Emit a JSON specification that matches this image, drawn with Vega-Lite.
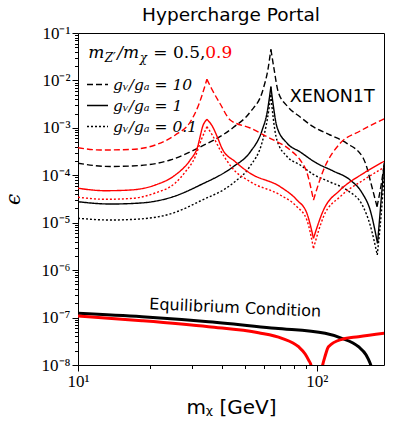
{
  "$schema": "https://vega.github.io/schema/vega-lite/v6.json",
  "width": 306,
  "height": 332,
  "autosize": {"type": "none"},
  "padding": {"left": 78, "top": 33, "right": 15, "bottom": 65},
  "background": "white",
  "config": {"view": {"stroke": "black", "strokeWidth": 1}},
  "title": {"text": "Hypercharge Portal", "font": "DejaVu Sans", "fontSize": 18.5, "fontWeight": "normal", "color": "black", "baseline": "alphabetic", "offset": -15, "anchor": "middle", "frame": "group"},
  "datasets": {
    "xen": [
      {"r": "0.5", "g": "10", "s": "a", "x": 10, "y": 1.79e-4},
      {"r": "0.5", "g": "10", "s": "a", "x": 13.65, "y": 1.532e-4},
      {"r": "0.5", "g": "10", "s": "a", "x": 18.23, "y": 1.609e-4},
      {"r": "0.5", "g": "10", "s": "a", "x": 24.33, "y": 2.101e-4},
      {"r": "0.5", "g": "10", "s": "a", "x": 32.48, "y": 3.95e-4},
      {"r": "0.5", "g": "10", "s": "a", "x": 44.65, "y": 1.018e-3},
      {"r": "0.5", "g": "10", "s": "a", "x": 52.6, "y": 2.16e-3},
      {"r": "0.5", "g": "10", "s": "a", "x": 59.61, "y": 6.597e-3},
      {"r": "0.5", "g": "10", "s": "a", "x": 62.55, "y": 0.01828},
      {"r": "0.5", "g": "10", "s": "a", "x": 64.2, "y": 0.0453},
      {"r": "0.5", "g": "10", "s": "b", "x": 64.2, "y": 0.0453},
      {"r": "0.5", "g": "10", "s": "b", "x": 66.28, "y": 0.0166},
      {"r": "0.5", "g": "10", "s": "b", "x": 68.89, "y": 5.702e-3},
      {"r": "0.5", "g": "10", "s": "b", "x": 75.12, "y": 2.89e-3},
      {"r": "0.5", "g": "10", "s": "b", "x": 85.14, "y": 1.694e-3},
      {"r": "0.5", "g": "10", "s": "b", "x": 96.5, "y": 1.058e-3},
      {"r": "0.5", "g": "10", "s": "b", "x": 113.6, "y": 7.07e-4},
      {"r": "0.5", "g": "10", "s": "b", "x": 133.5, "y": 4.72e-4},
      {"r": "0.5", "g": "10", "s": "b", "x": 156.2, "y": 2.315e-4},
      {"r": "0.5", "g": "10", "s": "b", "x": 162.0, "y": 1.45e-4},
      {"r": "0.5", "g": "10", "s": "b", "x": 167.1, "y": 7.96e-5},
      {"r": "0.5", "g": "10", "s": "b", "x": 178.6, "y": 2.18e-5},
      {"r": "0.5", "g": "10", "s": "c", "x": 178.6, "y": 2.18e-5},
      {"r": "0.5", "g": "10", "s": "c", "x": 185.8, "y": 6.24e-5},
      {"r": "0.5", "g": "10", "s": "c", "x": 191.2, "y": 1.648e-4},

      {"r": "0.5", "g": "1", "s": "a", "x": 10, "y": 2.77e-5},
      {"r": "0.5", "g": "1", "s": "a", "x": 13.65, "y": 2.48e-5},
      {"r": "0.5", "g": "1", "s": "a", "x": 18.23, "y": 2.6e-5},
      {"r": "0.5", "g": "1", "s": "a", "x": 25.05, "y": 3.54e-5},
      {"r": "0.5", "g": "1", "s": "a", "x": 32.48, "y": 6.24e-5},
      {"r": "0.5", "g": "1", "s": "a", "x": 44.65, "y": 1.517e-4},
      {"r": "0.5", "g": "1", "s": "a", "x": 52.6, "y": 3.1e-4},
      {"r": "0.5", "g": "1", "s": "a", "x": 59.04, "y": 9.02e-4},
      {"r": "0.5", "g": "1", "s": "a", "x": 61.96, "y": 2.16e-3},
      {"r": "0.5", "g": "1", "s": "a", "x": 64.2, "y": 7.376e-3},
      {"r": "0.5", "g": "1", "s": "b", "x": 64.2, "y": 7.376e-3},
      {"r": "0.5", "g": "1", "s": "b", "x": 65.65, "y": 3.034e-3},
      {"r": "0.5", "g": "1", "s": "b", "x": 68.03, "y": 1.058e-3},
      {"r": "0.5", "g": "1", "s": "b", "x": 75.12, "y": 4.72e-4},
      {"r": "0.5", "g": "1", "s": "b", "x": 85.14, "y": 3.1e-4},
      {"r": "0.5", "g": "1", "s": "b", "x": 100, "y": 1.79e-4},
      {"r": "0.5", "g": "1", "s": "b", "x": 117.0, "y": 1.231e-4},
      {"r": "0.5", "g": "1", "s": "b", "x": 137.8, "y": 7.96e-5},
      {"r": "0.5", "g": "1", "s": "b", "x": 154.7, "y": 4.23e-5},
      {"r": "0.5", "g": "1", "s": "b", "x": 167.1, "y": 1.85e-5},
      {"r": "0.5", "g": "1", "s": "b", "x": 179.5, "y": 3.68e-6},
      {"r": "0.5", "g": "1", "s": "c", "x": 179.5, "y": 3.68e-6},
      {"r": "0.5", "g": "1", "s": "c", "x": 185.8, "y": 3.01e-5},
      {"r": "0.5", "g": "1", "s": "c", "x": 191.2, "y": 1.8e-4},

      {"r": "0.5", "g": "0.1", "s": "a", "x": 10, "y": 1.239e-5},
      {"r": "0.5", "g": "0.1", "s": "a", "x": 13.65, "y": 1.14e-5},
      {"r": "0.5", "g": "0.1", "s": "a", "x": 18.23, "y": 1.2e-5},
      {"r": "0.5", "g": "0.1", "s": "a", "x": 25.05, "y": 1.6e-5},
      {"r": "0.5", "g": "0.1", "s": "a", "x": 32.48, "y": 2.87e-5},
      {"r": "0.5", "g": "0.1", "s": "a", "x": 44.65, "y": 6.88e-5},
      {"r": "0.5", "g": "0.1", "s": "a", "x": 52.6, "y": 1.57e-4},
      {"r": "0.5", "g": "0.1", "s": "a", "x": 59.04, "y": 5.03e-4},
      {"r": "0.5", "g": "0.1", "s": "a", "x": 61.96, "y": 1.465e-3},
      {"r": "0.5", "g": "0.1", "s": "a", "x": 64.2, "y": 4.929e-3},
      {"r": "0.5", "g": "0.1", "s": "b", "x": 64.2, "y": 4.929e-3},
      {"r": "0.5", "g": "0.1", "s": "b", "x": 65.65, "y": 1.614e-3},
      {"r": "0.5", "g": "0.1", "s": "b", "x": 68.03, "y": 5.55e-4},
      {"r": "0.5", "g": "0.1", "s": "b", "x": 75.12, "y": 2.465e-4},
      {"r": "0.5", "g": "0.1", "s": "b", "x": 85.14, "y": 1.648e-4},
      {"r": "0.5", "g": "0.1", "s": "b", "x": 96.5, "y": 1.05e-4},
      {"r": "0.5", "g": "0.1", "s": "b", "x": 113.6, "y": 7.22e-5},
      {"r": "0.5", "g": "0.1", "s": "b", "x": 133.5, "y": 4.89e-5},
      {"r": "0.5", "g": "0.1", "s": "b", "x": 156.2, "y": 2.18e-5},
      {"r": "0.5", "g": "0.1", "s": "b", "x": 167.1, "y": 8.95e-6},
      {"r": "0.5", "g": "0.1", "s": "b", "x": 179.0, "y": 2.09e-6},
      {"r": "0.5", "g": "0.1", "s": "c", "x": 179.0, "y": 2.09e-6},
      {"r": "0.5", "g": "0.1", "s": "c", "x": 185.8, "y": 1.45e-5},
      {"r": "0.5", "g": "0.1", "s": "c", "x": 191.2, "y": 9.66e-5},

      {"r": "0.9", "g": "10", "s": "a", "x": 10, "y": 3.82e-4},
      {"r": "0.9", "g": "10", "s": "a", "x": 12.4, "y": 3.41e-4},
      {"r": "0.9", "g": "10", "s": "a", "x": 16.55, "y": 3.5e-4},
      {"r": "0.9", "g": "10", "s": "a", "x": 21.06, "y": 4.35e-4},
      {"r": "0.9", "g": "10", "s": "a", "x": 25.54, "y": 7.07e-4},
      {"r": "0.9", "g": "10", "s": "a", "x": 29.5, "y": 1.329e-3},
      {"r": "0.9", "g": "10", "s": "a", "x": 31.86, "y": 2.89e-3},
      {"r": "0.9", "g": "10", "s": "a", "x": 34.65, "y": 0.01056},
      {"r": "0.9", "g": "10", "s": "b", "x": 34.65, "y": 0.01056},
      {"r": "0.9", "g": "10", "s": "b", "x": 36.12, "y": 6.926e-3},
      {"r": "0.9", "g": "10", "s": "b", "x": 39.4, "y": 3.184e-3},
      {"r": "0.9", "g": "10", "s": "b", "x": 43.38, "y": 1.465e-3},
      {"r": "0.9", "g": "10", "s": "b", "x": 52.6, "y": 9.93e-4},
      {"r": "0.9", "g": "10", "s": "b", "x": 61.77, "y": 6.51e-4},
      {"r": "0.9", "g": "10", "s": "b", "x": 77.33, "y": 3.41e-4},
      {"r": "0.9", "g": "10", "s": "b", "x": 85.14, "y": 2.1e-4},
      {"r": "0.9", "g": "10", "s": "b", "x": 90.82, "y": 1.15e-4},
      {"r": "0.9", "g": "10", "s": "b", "x": 96.78, "y": 3.01e-5},
      {"r": "0.9", "g": "10", "s": "c", "x": 96.78, "y": 3.01e-5},
      {"r": "0.9", "g": "10", "s": "c", "x": 106.6, "y": 1.292e-4},
      {"r": "0.9", "g": "10", "s": "c", "x": 125.2, "y": 4.72e-4},
      {"r": "0.9", "g": "10", "s": "c", "x": 151.8, "y": 8.59e-4},
      {"r": "0.9", "g": "10", "s": "c", "x": 191.2, "y": 1.538e-3},

      {"r": "0.9", "g": "1", "s": "a", "x": 10, "y": 5.32e-5},
      {"r": "0.9", "g": "1", "s": "a", "x": 13.01, "y": 4.73e-5},
      {"r": "0.9", "g": "1", "s": "a", "x": 16.55, "y": 4.89e-5},
      {"r": "0.9", "g": "1", "s": "a", "x": 21.06, "y": 6.24e-5},
      {"r": "0.9", "g": "1", "s": "a", "x": 25.54, "y": 1.014e-4},
      {"r": "0.9", "g": "1", "s": "a", "x": 29.5, "y": 2.101e-4},
      {"r": "0.9", "g": "1", "s": "a", "x": 31.56, "y": 3.76e-4},
      {"r": "0.9", "g": "1", "s": "a", "x": 33.43, "y": 1.149e-3},
      {"r": "0.9", "g": "1", "s": "a", "x": 34.65, "y": 1.515e-3},
      {"r": "0.9", "g": "1", "s": "b", "x": 34.65, "y": 1.515e-3},
      {"r": "0.9", "g": "1", "s": "b", "x": 36.47, "y": 1.095e-3},
      {"r": "0.9", "g": "1", "s": "b", "x": 38.76, "y": 5.55e-4},
      {"r": "0.9", "g": "1", "s": "b", "x": 40.05, "y": 3.71e-4},
      {"r": "0.9", "g": "1", "s": "b", "x": 45.52, "y": 1.934e-4},
      {"r": "0.9", "g": "1", "s": "b", "x": 52.6, "y": 1.101e-4},
      {"r": "0.9", "g": "1", "s": "b", "x": 70.23, "y": 5.74e-5},
      {"r": "0.9", "g": "1", "s": "b", "x": 82.49, "y": 3.01e-5},
      {"r": "0.9", "g": "1", "s": "b", "x": 90.82, "y": 1.58e-5},
      {"r": "0.9", "g": "1", "s": "b", "x": 96.78, "y": 4.69e-6},
      {"r": "0.9", "g": "1", "s": "c", "x": 96.78, "y": 4.69e-6},
      {"r": "0.9", "g": "1", "s": "c", "x": 106.6, "y": 1.85e-5},
      {"r": "0.9", "g": "1", "s": "c", "x": 125.2, "y": 4.89e-5},
      {"r": "0.9", "g": "1", "s": "c", "x": 156.7, "y": 1.101e-4},
      {"r": "0.9", "g": "1", "s": "c", "x": 191.2, "y": 1.97e-4},

      {"r": "0.9", "g": "0.1", "s": "a", "x": 10, "y": 3.44e-5},
      {"r": "0.9", "g": "0.1", "s": "a", "x": 13.01, "y": 3.12e-5},
      {"r": "0.9", "g": "0.1", "s": "a", "x": 16.55, "y": 3.24e-5},
      {"r": "0.9", "g": "0.1", "s": "a", "x": 21.06, "y": 4.23e-5},
      {"r": "0.9", "g": "0.1", "s": "a", "x": 25.54, "y": 6.88e-5},
      {"r": "0.9", "g": "0.1", "s": "a", "x": 28.12, "y": 1.173e-4},
      {"r": "0.9", "g": "0.1", "s": "a", "x": 30.96, "y": 2.465e-4},
      {"r": "0.9", "g": "0.1", "s": "a", "x": 32.8, "y": 5.55e-4},
      {"r": "0.9", "g": "0.1", "s": "a", "x": 34.65, "y": 1.058e-3},
      {"r": "0.9", "g": "0.1", "s": "b", "x": 34.65, "y": 1.058e-3},
      {"r": "0.9", "g": "0.1", "s": "b", "x": 36.47, "y": 7.07e-4},
      {"r": "0.9", "g": "0.1", "s": "b", "x": 39.4, "y": 3.41e-4},
      {"r": "0.9", "g": "0.1", "s": "b", "x": 44.23, "y": 1.424e-4},
      {"r": "0.9", "g": "0.1", "s": "b", "x": 52.6, "y": 7.32e-5},
      {"r": "0.9", "g": "0.1", "s": "b", "x": 70.23, "y": 3.84e-5},
      {"r": "0.9", "g": "0.1", "s": "b", "x": 82.49, "y": 2.18e-5},
      {"r": "0.9", "g": "0.1", "s": "b", "x": 90.82, "y": 1.14e-5},
      {"r": "0.9", "g": "0.1", "s": "b", "x": 96.78, "y": 2.89e-6},
      {"r": "0.9", "g": "0.1", "s": "c", "x": 96.78, "y": 2.89e-6},
      {"r": "0.9", "g": "0.1", "s": "c", "x": 106.6, "y": 1.34e-5},
      {"r": "0.9", "g": "0.1", "s": "c", "x": 125.2, "y": 3.54e-5},
      {"r": "0.9", "g": "0.1", "s": "c", "x": 156.7, "y": 7.96e-5},
      {"r": "0.9", "g": "0.1", "s": "c", "x": 191.2, "y": 1.459e-4}
    ],
    "eq": [
      {"r": "0.5", "s": "a", "x": 10, "y": 1.231e-7},
      {"r": "0.5", "s": "a", "x": 18.52, "y": 1.043e-7},
      {"r": "0.5", "s": "a", "x": 35.19, "y": 8.18e-8},
      {"r": "0.5", "s": "a", "x": 66.92, "y": 5.94e-8},
      {"r": "0.5", "s": "a", "x": 108.3, "y": 4.66e-8},
      {"r": "0.5", "s": "a", "x": 127.2, "y": 3.66e-8},
      {"r": "0.5", "s": "a", "x": 149.3, "y": 2.43e-8},
      {"r": "0.5", "s": "a", "x": 160.8, "y": 1.626e-8},
      {"r": "0.5", "s": "a", "x": 167.1, "y": 1.086e-8},
      {"r": "0.5", "s": "a", "x": 172.0, "y": 7e-9},
      {"r": "0.9", "s": "a", "x": 10, "y": 1.08e-7},
      {"r": "0.9", "s": "a", "x": 18.52, "y": 8.59e-8},
      {"r": "0.9", "s": "a", "x": 35.19, "y": 6.42e-8},
      {"r": "0.9", "s": "a", "x": 56.98, "y": 4.8e-8},
      {"r": "0.9", "s": "a", "x": 71.39, "y": 3.66e-8},
      {"r": "0.9", "s": "a", "x": 83.75, "y": 2.43e-8},
      {"r": "0.9", "s": "a", "x": 89.33, "y": 1.706e-8},
      {"r": "0.9", "s": "a", "x": 92.24, "y": 1.281e-8},
      {"r": "0.9", "s": "a", "x": 94.67, "y": 9.5e-9},
      {"r": "0.9", "s": "a", "x": 96.5, "y": 5e-9},
      {"r": "0.9", "s": "b", "x": 103.2, "y": 5e-9},
      {"r": "0.9", "s": "b", "x": 105.5, "y": 9.5e-9},
      {"r": "0.9", "s": "b", "x": 108.3, "y": 1.548e-8},
      {"r": "0.9", "s": "b", "x": 111.8, "y": 2.43e-8},
      {"r": "0.9", "s": "b", "x": 127.2, "y": 3.48e-8},
      {"r": "0.9", "s": "b", "x": 149.3, "y": 3.95e-8},
      {"r": "0.9", "s": "b", "x": 191.2, "y": 4.66e-8}
    ]
  },
  "encoding": {
    "x": {
      "field": "x", "type": "quantitative",
      "scale": {"type": "log", "domain": [10, 191], "nice": false},
      "axis": {
        "values": [10, 20, 30, 40, 50, 60, 70, 80, 90, 100],
        "labelExpr": "datum.value == 10 ? '10¹' : (datum.value == 100 ? '10²' : '')",
        "labelFont": "Liberation Serif", "labelFontSize": 17, "labelColor": "black",
        "labelFlush": false, "labelOverlap": false, "labelPadding": 2,
        "tickColor": "black", "tickWidth": 1,
        "tickSize": {"condition": {"test": "datum.value == 10 || datum.value == 100", "value": 6}, "value": 3.5},
        "domain": false, "grid": false,
        "title": "mᵪ [GeV]", "titleFont": "DejaVu Sans", "titleFontSize": 20, "titleFontWeight": "normal", "titleColor": "black", "titlePadding": 8
      }
    },
    "y": {
      "field": "y", "type": "quantitative",
      "scale": {"type": "log", "domain": [1e-8, 0.1], "nice": false},
      "axis": {
        "values": [1e-8,2e-8,3e-8,4e-8,5e-8,6e-8,7e-8,8e-8,9e-8,1e-7,2e-7,3e-7,4e-7,5e-7,6e-7,7e-7,8e-7,9e-7,1e-6,2e-6,3e-6,4e-6,5e-6,6e-6,7e-6,8e-6,9e-6,1e-5,2e-5,3e-5,4e-5,5e-5,6e-5,7e-5,8e-5,9e-5,1e-4,2e-4,3e-4,4e-4,5e-4,6e-4,7e-4,8e-4,9e-4,1e-3,2e-3,3e-3,4e-3,5e-3,6e-3,7e-3,8e-3,9e-3,1e-2,2e-2,3e-2,4e-2,5e-2,6e-2,7e-2,8e-2,9e-2,1e-1],
        "labelExpr": "abs(log(datum.value)/LN10 - round(log(datum.value)/LN10)) < 0.001 ? '10⁻' + ['⁰','¹','²','³','⁴','⁵','⁶','⁷','⁸','⁹'][abs(round(log(datum.value)/LN10))] : ''",
        "labelFont": "Liberation Serif", "labelFontSize": 17, "labelColor": "black",
        "labelFlush": false, "labelOverlap": false, "labelPadding": 2,
        "tickColor": "black", "tickWidth": 1,
        "tickSize": {"condition": {"test": "abs(log(datum.value)/LN10 - round(log(datum.value)/LN10)) < 0.001", "value": 6}, "value": 3.5},
        "domain": false, "grid": false,
        "title": "ϵ", "titleFont": "DejaVu Serif", "titleFontStyle": "italic", "titleFontSize": 20, "titleFontWeight": "normal", "titleColor": "black",
        "titleX": -55, "titleY": 166
      }
    }
  },
  "layer": [
    {
      "data": {"name": "xen"},
      "mark": {"type": "line", "clip": true, "strokeWidth": 1.4, "interpolate": "monotone"},
      "encoding": {
        "detail": {"field": "s", "type": "nominal"},
        "color": {"field": "r", "type": "nominal", "scale": {"domain": ["0.5", "0.9"], "range": ["#000000", "#ff0000"]}, "legend": null},
        "strokeDash": {"field": "g", "type": "nominal", "scale": {"domain": ["10", "1", "0.1"], "range": [[6, 3], [1, 0], [2, 2]]},
          "legend": {"orient": "none", "legendX": 8, "legendY": 40, "title": null, "symbolType": "stroke", "symbolSize": 441, "symbolStrokeColor": "black", "symbolStrokeWidth": 1.5, "labelFont": "DejaVu Serif", "labelFontStyle": "italic", "labelFontSize": 15.5, "labelColor": "black", "labelExpr": "'gᵥ/gₐ = ' + datum.label", "rowPadding": 1, "padding": 0, "labelOffset": 4}
        }
      }
    },
    {
      "data": {"name": "eq"},
      "mark": {"type": "line", "clip": true, "strokeWidth": 3, "interpolate": "monotone"},
      "encoding": {
        "detail": {"field": "s", "type": "nominal"},
        "color": {"field": "r", "type": "nominal", "legend": null}
      }
    },
    {
      "data": {"values": [{"t": "XENON1T", "x": 115.9, "y": 0.004473}]},
      "mark": {"type": "text", "font": "DejaVu Sans", "fontSize": 17.5, "align": "center", "baseline": "middle", "color": "black"},
      "encoding": {"text": {"field": "t"}}
    },
    {
      "data": {"values": [{"t": "Equilibrium Condition", "x": 45.52, "y": 1.592e-7}]},
      "mark": {"type": "text", "font": "DejaVu Sans", "fontSize": 16, "align": "center", "baseline": "middle", "angle": 2.5, "color": "black"},
      "encoding": {"text": {"field": "t"}}
    },
    {
      "data": {"values": [{"t": "m", "x": 11.04, "y": 0.0379}, {"t": "/m", "x": 14.6, "y": 0.0379}]},
      "mark": {"type": "text", "font": "DejaVu Serif", "fontStyle": "italic", "fontSize": 17, "align": "left", "baseline": "middle", "color": "black"},
      "encoding": {"text": {"field": "t"}}
    },
    {
      "data": {"values": [{"t": "Z′", "x": 12.94, "y": 0.0379}, {"t": "χ", "x": 18.14, "y": 0.0379}]},
      "mark": {"type": "text", "font": "DejaVu Serif", "fontStyle": "italic", "fontSize": 12, "align": "left", "baseline": "middle", "dy": 5, "color": "black"},
      "encoding": {"text": {"field": "t"}}
    },
    {
      "data": {"values": [{"t": "= 0.5,", "x": 20.66, "y": 0.0379}]},
      "mark": {"type": "text", "font": "DejaVu Serif", "fontSize": 17, "align": "left", "baseline": "middle", "color": "black"},
      "encoding": {"text": {"field": "t"}}
    },
    {
      "data": {"values": [{"t": "0.9", "x": 34.09, "y": 0.0379}]},
      "mark": {"type": "text", "font": "DejaVu Serif", "fontSize": 17, "align": "left", "baseline": "middle", "color": "#ff0000"},
      "encoding": {"text": {"field": "t"}}
    }
  ]
}
